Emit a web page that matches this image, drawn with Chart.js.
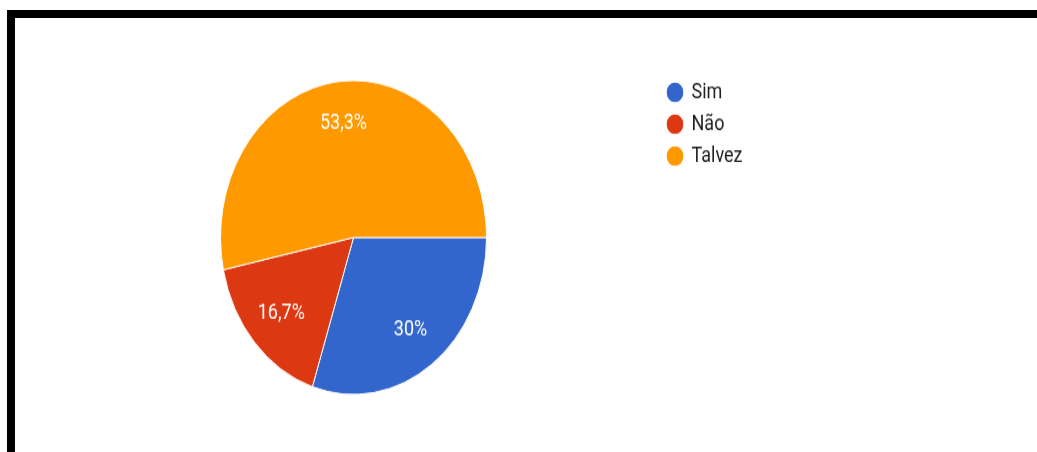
<!DOCTYPE html>
<html>
<head>
<meta charset="utf-8">
<script src="https://cdn.jsdelivr.net/npm/chart.js@4"></script>
<style>
  html, body { margin: 0; padding: 0; background: #fff; overflow: hidden; }
  body { width: 1037px; height: 452px; position: relative; }
  .barra { position: absolute; background: #000; }
  .topo { left: 7px; top: 10px; width: 1030px; height: 8px; }
  .lado { left: 7px; top: 10px; width: 8px; height: 442px; }
  /* chart is stretched a bit in height */
  .wrap {
    position: absolute; left: 15px; top: 18px; width: 1022px; height: 368px;
    transform: scaleY(1.18); transform-origin: 0 0;
  }
  .wrap canvas { display: block; }
</style>
</head>
<body>
<div class="barra topo"></div>
<div class="barra lado"></div>
<div class="wrap"><canvas id="grafico"></canvas></div>
<script>
const respostas = ['Sim', 'Não', 'Talvez'];
const percentuais = [30, 16.7, 53.3];
const cores = ['#3366cc', '#dc3912', '#ff9900'];

// texto da porcentagem dentro de cada fatia
const rotulosFatias = {
  id: 'rotulosFatias',
  afterDatasetsDraw(chart) {
    const ctx = chart.ctx;
    const meta = chart.getDatasetMeta(0);
    ctx.save();
    ctx.fillStyle = '#fff';
    ctx.font = '18px Roboto';
    ctx.textAlign = 'center';
    ctx.textBaseline = 'middle';
    meta.data.forEach((arc, i) => {
      const p = arc.getProps(['x', 'y', 'startAngle', 'endAngle', 'outerRadius'], true);
      const meio = (p.startAngle + p.endAngle) / 2;
      const r = p.outerRadius * 0.73;
      const txt = String(percentuais[i]).replace('.', ',') + '%';
      ctx.fillText(txt, p.x + Math.cos(meio) * r, p.y + Math.sin(meio) * r);
    });
    ctx.restore();
  }
};

new Chart(document.getElementById('grafico'), {
  type: 'pie',
  data: {
    labels: respostas,
    datasets: [{
      data: percentuais,
      backgroundColor: cores,
      borderColor: '#fff',
      borderWidth: 1,
      radius: 133
    }]
  },
  options: {
    responsive: true,
    maintainAspectRatio: false,
    animation: false,
    rotation: 90,
    layout: {
      padding: { left: 33.5, right: 284.5, top: 45, bottom: 41 }
    },
    plugins: {
      tooltip: { enabled: false },
      legend: {
        position: 'right',
        align: 'start',
        labels: {
          usePointStyle: true,
          pointStyle: 'circle',
          boxWidth: 15,
          boxHeight: 12.5,
          padding: 9,
          color: '#212121',
          font: { family: 'Roboto', size: 18 }
        }
      }
    }
  },
  plugins: [rotulosFatias]
});
</script>
</body>
</html>
